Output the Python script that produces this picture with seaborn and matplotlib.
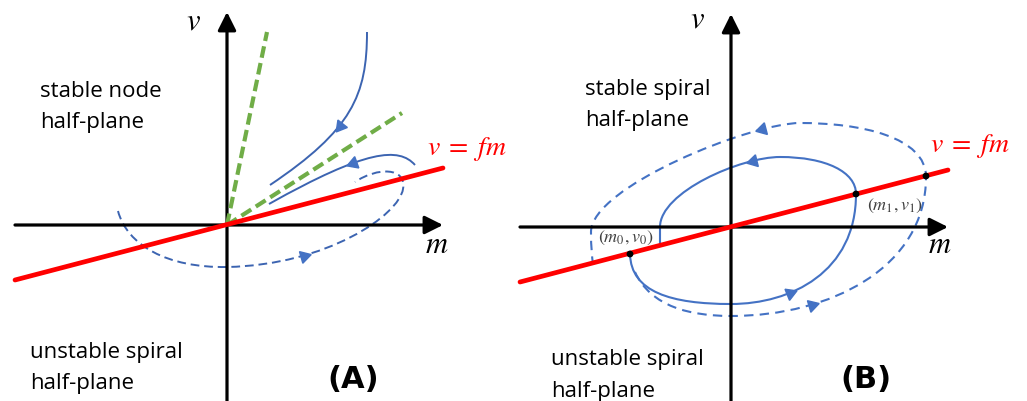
import numpy as np
import seaborn as sns
import matplotlib.pyplot as plt
from matplotlib.path import Path
from matplotlib.patches import PathPatch

# ---- panel A (stable node / unstable spiral), units = px from origin ----
a_red_m = [-212, 216]
a_red_v = [-55, 57]
a_green_steep_m = [0, 40]
a_green_steep_v = [0, 193]
a_green_flat_m = [0, 175]
a_green_flat_v = [0, 112]
# cubic bezier control points: start, then (c1, c2, end) per segment
a_node_upper = [(140, 193), (140, 130), (125, 95), (43, 40)]
a_node_lower = [(188, 60), (172, 78), (140, 76), (42, 21)]
a_spiral = [(-109, 14), (-100, -20), (-60, -43), (0, -42),
            (100, -40), (172, 10), (176, 36),
            (180, 58), (150, 58), (128, 43)]

# ---- panel B (stable / unstable spiral) ----
b_red_m = [-211, 217]
b_red_v = [-55, 57]
b_dots_m = [-101, 125, 195]
b_dots_v = [-27, 33, 51]
b_inner = [(-101, -27), (-100, -65), (-60, -77), (0, -77),
           (60, -77), (125, -45), (125, 33),
           (125, 55), (95, 70), (49, 70),
           (10, 70), (-71, 35), (-71, 0),
           (-71, -7), (-71, -13), (-71, -19)]
b_outer = [(-96, -45), (-80, -80), (-40, -89), (0, -89),
           (100, -89), (195, -40), (195, 50),
           (195, 90), (130, 104), (69, 104),
           (20, 104), (-140, 40), (-140, -5),
           (-140, -20), (-139, -30), (-138, -37)]

RED = "#ff0000"
GREEN = "#70ad47"
BLUE_A = "#3c64b1"
BLUE_B = "#4472c4"

sns.set_theme(style="white")
plt.rcParams["font.family"] = ["Open Sans", "DejaVu Sans"]
plt.rcParams["mathtext.fontset"] = "stix"
plt.rcParams["text.color"] = "black"


def bezier(ax, pts, color, lw, ls="-"):
    codes = [Path.MOVETO] + [Path.CURVE4] * (len(pts) - 1)
    ax.add_patch(PathPatch(Path(pts, codes), fill=False, edgecolor=color,
                           lw=lw, linestyle=ls, capstyle="butt"))


def arrow_on(ax, pts, seg, t, color, size=10):
    p = np.array(pts[3 * seg:3 * seg + 4], float)
    c = np.array([(1 - t) ** 3, 3 * (1 - t) ** 2 * t, 3 * (1 - t) * t ** 2, t ** 3])
    dc = np.array([-3 * (1 - t) ** 2, 3 * (1 - t) ** 2 - 6 * (1 - t) * t,
                   6 * (1 - t) * t - 3 * t ** 2, 3 * t ** 2])
    pos = c @ p
    d = dc @ p
    ang = np.degrees(np.arctan2(d[1], d[0]))
    ax.plot(pos[0], pos[1], marker=(3, 0, ang - 90), ms=size, color=color,
            ls="none", zorder=5)


def axes_arrows(ax, x0, x1, y0, y1):
    style = dict(arrowstyle="-|>,head_length=1.1,head_width=0.55", color="black",
                 lw=2.3, mutation_scale=10, shrinkA=0, shrinkB=0)
    ax.annotate("", xy=(x1, 0), xytext=(x0, 0), arrowprops=style)
    ax.annotate("", xy=(0, y1), xytext=(0, y0), arrowprops=style)


fig = plt.figure(figsize=(10.27, 4.02), dpi=100)
axA = fig.add_axes([0, 0, 513 / 1027, 1])
axB = fig.add_axes([513 / 1027, 0, 514 / 1027, 1])

# ---------------- panel A ----------------
ax = axA
ax.set_xlim(-227, 286)
ax.set_ylim(-176, 226)
ax.axis("off")
axes_arrows(ax, -212, 216, -176, 213)
sns.lineplot(x=a_green_steep_m, y=a_green_steep_v, ax=ax, color=GREEN, lw=3,
             linestyle=(0, (2.8, 1.3)), estimator=None, sort=False, zorder=3)
sns.lineplot(x=a_green_flat_m, y=a_green_flat_v, ax=ax, color=GREEN, lw=3,
             linestyle=(0, (2.8, 1.3)), estimator=None, sort=False, zorder=3)
sns.lineplot(x=a_red_m, y=a_red_v, ax=ax, color=RED, lw=3.4,
             estimator=None, sort=False, zorder=4)
bezier(ax, a_node_upper, BLUE_A, 1.4)
bezier(ax, a_node_lower, BLUE_A, 1.4)
bezier(ax, a_spiral, BLUE_A, 1.4, (0, (4.5, 2.5)))
arrow_on(ax, a_node_upper, 0, 0.6, BLUE_B)
arrow_on(ax, a_node_lower, 0, 0.63, BLUE_B)
arrow_on(ax, a_spiral, 1, 0.28, BLUE_B)

ax.text(-187, 129, "stable node", fontsize=16, va="baseline")
ax.text(-187, 98, "half-plane", fontsize=16, va="baseline")
ax.text(-197, -132, "unstable spiral", fontsize=16, va="baseline")
ax.text(-197, -163, "half-plane", fontsize=16, va="baseline")
ax.text(126, -162, "(A)", fontsize=22, fontweight="bold", family="DejaVu Sans",
        ha="center", va="baseline")
ax.text(200, 71, r"$v\;=\;fm$", fontsize=20, color=RED, va="baseline")
ax.text(-34, 196, r"$v$", fontsize=22, ha="center", va="baseline")
ax.text(210, -27, r"$m$", fontsize=22, ha="center", va="baseline")

# ---------------- panel B ----------------
ax = axB
ax.set_xlim(-218, 296)
ax.set_ylim(-174, 228)
ax.axis("off")
axes_arrows(ax, -211, 217, -174, 213)
sns.lineplot(x=b_red_m, y=b_red_v, ax=ax, color=RED, lw=3.4,
             estimator=None, sort=False, zorder=4)
bezier(ax, b_inner, BLUE_B, 1.5)
bezier(ax, b_outer, BLUE_B, 1.5, (0, (4.5, 3)))
arrow_on(ax, b_inner, 1, 0.33, BLUE_B)
arrow_on(ax, b_inner, 3, 0.2, BLUE_B)
arrow_on(ax, b_outer, 1, 0.28, BLUE_B)
arrow_on(ax, b_outer, 3, 0.19, BLUE_B)
sns.scatterplot(x=b_dots_m, y=b_dots_v, ax=ax, color="black", s=24,
                edgecolor="none", zorder=6)

ax.text(-146, 133, "stable spiral", fontsize=16, va="baseline")
ax.text(-146, 102, "half-plane", fontsize=16, va="baseline")
ax.text(-180, -137, "unstable spiral", fontsize=16, va="baseline")
ax.text(-180, -169, "half-plane", fontsize=16, va="baseline")
ax.text(135, -160, "(B)", fontsize=22, fontweight="bold", family="DejaVu Sans",
        ha="center", va="baseline")
ax.text(199, 76, r"$v\;=\;fm$", fontsize=20, color=RED, va="baseline")
ax.text(-33, 201, r"$v$", fontsize=22, ha="center", va="baseline")
ax.text(209, -25, r"$m$", fontsize=22, ha="center", va="baseline")
ax.text(-105, -14, r"$(m_0,v_0)$", fontsize=13, color="#404040",
        ha="center", va="baseline")
ax.text(164, 18, r"$(m_1,v_1)$", fontsize=13, color="#404040",
        ha="center", va="baseline")

fig.savefig("out.png", dpi=100)
